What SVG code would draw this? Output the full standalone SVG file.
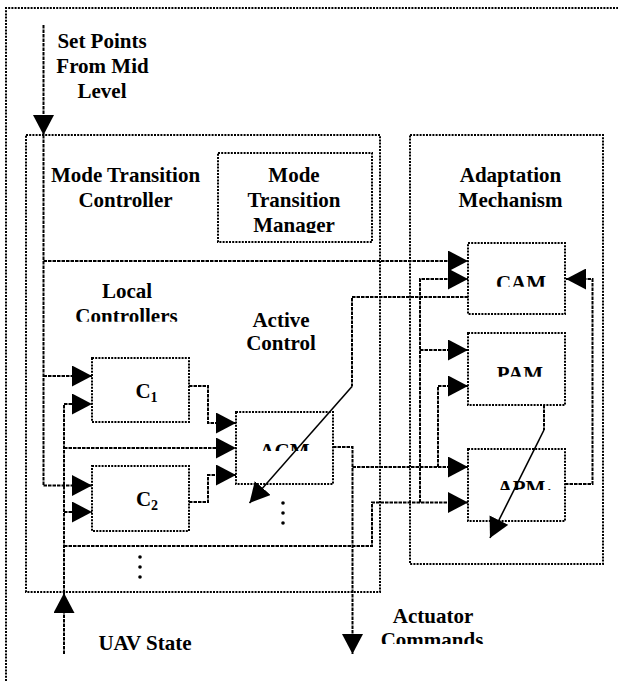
<svg xmlns="http://www.w3.org/2000/svg" width="618" height="681" viewBox="0 0 618 681">
<style>
.box{fill:none;stroke:#000;stroke-width:2;stroke-dasharray:2 1.2}
.con{fill:none;stroke:#000;stroke-width:2;stroke-dasharray:3.5 1}
.sol{fill:none;stroke:#000;stroke-width:1.6}
.t{font-family:"Liberation Serif","Times New Roman",serif;font-weight:bold;font-size:21px;fill:#000;text-anchor:middle}
.dot{fill:#000}
</style>
<defs>
<marker id="arr" markerUnits="userSpaceOnUse" markerWidth="20" markerHeight="21" viewBox="0 0 20 21" refX="20" refY="10.5" orient="auto">
<path d="M0,0 L20,10.5 L0,21 z" fill="#000"/>
</marker>
<clipPath id="clMgr" clipPathUnits="userSpaceOnUse"><rect x="200" y="140" width="180" height="93"/></clipPath>
<clipPath id="clLoc" clipPathUnits="userSpaceOnUse"><rect x="60" y="270" width="140" height="51.7"/></clipPath>
<clipPath id="clCam" clipPathUnits="userSpaceOnUse"><rect x="470" y="250" width="95" height="36.7"/></clipPath>
<clipPath id="clPam" clipPathUnits="userSpaceOnUse"><rect x="470" y="340" width="95" height="36.7"/></clipPath>
<clipPath id="clAcm" clipPathUnits="userSpaceOnUse"><rect x="238" y="420" width="95" height="31"/></clipPath>
<clipPath id="clApm" clipPathUnits="userSpaceOnUse"><rect x="470" y="460" width="95" height="30"/></clipPath>
<clipPath id="clCmd" clipPathUnits="userSpaceOnUse"><rect x="360" y="600" width="140" height="44"/></clipPath>
</defs>
<rect width="618" height="681" fill="#fff"/>

<g id="frame">
<path class="box" d="M6,681 L6,8 L618,8"/>
</g>

<g id="mode-transition-controller">
<rect class="box" x="26" y="135" width="354" height="457"/>
<text class="t" x="125.5" y="181.7">Mode Transition</text>
<text class="t" x="125.5" y="207">Controller</text>
</g>

<g id="mode-transition-manager">
<rect class="box" x="218" y="153" width="154" height="89"/>
<g clip-path="url(#clMgr)">
<text class="t" x="294" y="181.7">Mode</text>
<text class="t" x="294" y="206.7">Transition</text>
<text class="t" x="294" y="231.7">Manager</text>
</g>
</g>

<g id="adaptation-mechanism">
<rect class="box" x="410" y="135" width="193" height="429"/>
<text class="t" x="510.5" y="181.7">Adaptation</text>
<text class="t" x="510.5" y="206.7">Mechanism</text>
</g>

<g id="local-controllers-label">
<text class="t" x="127" y="298.3">Local</text>
<text class="t" x="126.5" y="323" clip-path="url(#clLoc)">Controllers</text>
</g>

<g id="active-control-label">
<text class="t" x="281" y="326.7">Active</text>
<text class="t" x="281" y="350">Control</text>
</g>

<g id="cam">
<rect class="box" x="468" y="243" width="97" height="71"/>
<text class="t" x="521" y="289.5" clip-path="url(#clCam)">CAM</text>
</g>

<g id="pam">
<rect class="box" x="468" y="333" width="97" height="72"/>
<text class="t" x="520" y="380.5" clip-path="url(#clPam)">PAM</text>
</g>

<g id="apm">
<rect class="box" x="468" y="449" width="97" height="72"/>
<text class="t" x="525" y="494.5" clip-path="url(#clApm)">APM<tspan font-size="14" dy="4">1</tspan></text>
</g>

<g id="c1">
<rect class="box" x="92" y="358" width="97" height="64"/>
<text class="t" x="146.5" y="398.3">C<tspan font-size="14" dy="4">1</tspan></text>
</g>

<g id="c2">
<rect class="box" x="92" y="466" width="97" height="65"/>
<text class="t" x="147" y="506">C<tspan font-size="14" dy="4">2</tspan></text>
</g>

<g id="acm">
<rect class="box" x="236" y="412" width="97" height="72"/>
<text class="t" x="288" y="458" clip-path="url(#clAcm)">ACM<tspan font-size="14" dy="4">1</tspan></text>
</g>

<g id="set-points-label">
<text class="t" x="102" y="48.3">Set Points</text>
<text class="t" x="102.5" y="72.7">From Mid</text>
<text class="t" x="102" y="97.7">Level</text>
</g>

<g id="uav-state-label">
<text class="t" x="145" y="650">UAV State</text>
</g>

<g id="actuator-commands-label">
<text class="t" x="433" y="622.7">Actuator</text>
<text class="t" x="432" y="646.7" clip-path="url(#clCmd)">Commands</text>
</g>

<g id="ellipses">
<circle class="dot" cx="283" cy="503" r="1.8"/>
<circle class="dot" cx="283" cy="513" r="1.8"/>
<circle class="dot" cx="283" cy="523" r="1.8"/>
<circle class="dot" cx="140" cy="557" r="1.8"/>
<circle class="dot" cx="140" cy="567" r="1.8"/>
<circle class="dot" cx="140" cy="577" r="1.8"/>
</g>

<g id="connectors">
<path class="con" d="M43.5,25 L43.5,135" marker-end="url(#arr)"/>
<path class="con" d="M43.5,135 L43.5,485.5"/>
<path class="con" d="M43.5,261 L468,261" marker-end="url(#arr)"/>
<path class="con" d="M43.5,376 L92,376" marker-end="url(#arr)"/>
<path class="con" d="M43.5,485.5 L92,485.5" marker-end="url(#arr)"/>
<path class="con" d="M64,654 L64,593" marker-end="url(#arr)"/>
<path class="con" d="M64,593 L64,404 L92,404" marker-end="url(#arr)"/>
<path class="con" d="M64,448 L236,448" marker-end="url(#arr)"/>
<path class="con" d="M64,512 L92,512" marker-end="url(#arr)"/>
<path class="con" d="M64,546 L372,546 L372,502.5 L468,502.5" marker-end="url(#arr)"/>
<path class="con" d="M420,502.5 L420,279 L468,279" marker-end="url(#arr)"/>
<path class="con" d="M420,350 L468,350" marker-end="url(#arr)"/>
<path class="con" d="M189,386 L208,386 L208,423 L236,423" marker-end="url(#arr)"/>
<path class="con" d="M189,502 L208,502 L208,475 L236,475" marker-end="url(#arr)"/>
<path class="con" d="M333,447 L352.5,447 L352.5,654" marker-end="url(#arr)"/>
<path class="con" d="M352.5,467 L468,467" marker-end="url(#arr)"/>
<path class="con" d="M438,467 L438,386 L468,386" marker-end="url(#arr)"/>
<path class="con" d="M468,297 L352,297 L352,386.5"/>
<path class="sol" d="M352,386.5 L249.5,503" marker-end="url(#arr)"/>
<path class="con" d="M544,405 L544,430"/>
<path class="sol" d="M544,430 L490,538" marker-end="url(#arr)"/>
<path class="con" d="M565,484 L592.5,484 L592.5,279 L566,279" marker-end="url(#arr)"/>
</g>
</svg>
